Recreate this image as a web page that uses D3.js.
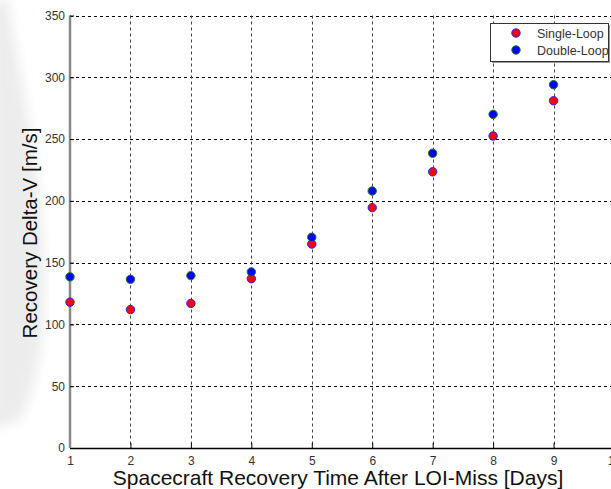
<!DOCTYPE html>
<html>
<head>
<meta charset="utf-8">
<script src="https://cdn.jsdelivr.net/npm/d3@7"></script>
<style>
  html, body { margin: 0; padding: 0; background: #fff; }
  svg { display: block; font-family: "Liberation Sans", Arial, sans-serif; }
</style>
</head>
<body>
<svg id="chart" width="611" height="489"></svg>
<script>
// Recovery time after LOI miss (days)
const days = [1, 2, 3, 4, 5, 6, 7, 8, 9];
// Recovery delta-V (m/s) for each strategy
const singleLoop = [118, 112, 117, 137, 165, 194.5, 223.5, 252.5, 281];
const doubleLoop = [138.5, 136.5, 139.5, 142.5, 170.5, 208, 238.5, 270, 294];
const xTicks = [1, 2, 3, 4, 5, 6, 7, 8, 9, 10];
const yTicks = [0, 50, 100, 150, 200, 250, 300, 350];
const seriesNames = ["Single-Loop", "Double-Loop"];

const svg = d3.select("#chart");
const plotLeft = 70, plotTop = 15.5, plotBottom = 448, plotRight = 614;

const x = d3.scaleLinear().domain([1, 10]).range([plotLeft, plotRight]);
const y = d3.scaleLinear().domain([0, 350]).range([plotBottom, plotTop]);

// soft grey shading along the left margin
const defs = svg.append("defs");
defs.append("filter").attr("id", "soft")
  .append("feGaussianBlur").attr("stdDeviation", 6);
svg.append("path")
  .attr("d", "M-10,0 L8,0 C20,80 40,160 44,260 C46,330 40,380 20,420 L-10,430 Z")
  .attr("fill", "#ececec")
  .attr("filter", "url(#soft)");

// grid
svg.append("g").selectAll("line").data(yTicks.filter(d => d > 0)).join("line")
  .attr("x1", plotLeft).attr("x2", 611)
  .attr("y1", d => Math.round(y(d)) + 0.5).attr("y2", d => Math.round(y(d)) + 0.5)
  .attr("stroke", "#000").attr("stroke-width", 1).attr("stroke-dasharray", "3,3");
svg.append("g").selectAll("line").data(xTicks.filter(d => d > 1)).join("line")
  .attr("x1", d => Math.round(x(d)) + 0.5).attr("x2", d => Math.round(x(d)) + 0.5)
  .attr("y1", plotTop).attr("y2", plotBottom)
  .attr("stroke", "#444").attr("stroke-width", 1).attr("stroke-dasharray", "3,3");

// x axis
const xAxis = svg.append("g")
  .attr("transform", `translate(0,${plotBottom})`)
  .call(d3.axisBottom(x).tickValues(xTicks).tickSize(-5).tickPadding(8).tickFormat(d3.format("d")));
xAxis.select(".domain").attr("stroke", "#000").attr("stroke-width", 1.5).attr("d", `M${plotLeft},0.5H611`);
xAxis.selectAll(".tick line").attr("stroke", "#000");
xAxis.selectAll("text").attr("font-size", 12).attr("fill", "#333")
  .attr("font-family", "'Liberation Sans', Arial, sans-serif");

// y axis
const yAxis = svg.append("g")
  .attr("transform", `translate(${plotLeft},0)`)
  .call(d3.axisLeft(y).tickValues(yTicks).tickSize(4).tickPadding(1));
yAxis.select(".domain").attr("stroke", "#888").attr("stroke-width", 2.5)
  .attr("d", `M0,${plotTop}V${plotBottom}`);
yAxis.selectAll(".tick line").attr("stroke", "#000").attr("x1", 0).attr("x2", 4);
yAxis.selectAll("text").attr("font-size", 12).attr("fill", "#333")
  .attr("font-family", "'Liberation Sans', Arial, sans-serif");

// axis titles
svg.append("text")
  .attr("x", 338).attr("y", 485)
  .attr("text-anchor", "middle").attr("font-size", 21).attr("fill", "#111")
  .text("Spacecraft Recovery Time After LOI-Miss [Days]");
svg.append("text")
  .attr("transform", `translate(37,233) rotate(-90)`)
  .attr("text-anchor", "middle").attr("font-size", 20.5).attr("fill", "#111")
  .text("Recovery Delta-V [m/s]");

// markers
const styles = [
  { fill: "#ff0000", stroke: "#2020ff" },
  { fill: "#0000ff", stroke: "#1a7a1a" }
];
[singleLoop, doubleLoop].forEach((vals, i) => {
  svg.append("g").selectAll("circle").data(vals).join("circle")
    .attr("cx", (d, j) => x(days[j]))
    .attr("cy", d => y(d))
    .attr("r", 4.2)
    .attr("fill", styles[i].fill)
    .attr("stroke", styles[i].stroke)
    .attr("stroke-width", 1);
});

// legend
const lg = svg.append("g").attr("transform", "translate(490,23)");
lg.append("rect").attr("x", 2).attr("y", 2).attr("width", 118).attr("height", 38).attr("fill", "#999");
lg.append("rect").attr("x", 0.5).attr("y", 0.5).attr("width", 118).attr("height", 38)
  .attr("fill", "#fff").attr("stroke", "#333").attr("stroke-width", 1);
seriesNames.forEach((name, i) => {
  const row = lg.append("g").attr("transform", `translate(0,${10 + i * 17})`);
  row.append("circle").attr("cx", 26).attr("cy", 0).attr("r", 4.2)
    .attr("fill", styles[i].fill).attr("stroke", styles[i].stroke);
  row.append("text").attr("x", 47).attr("y", 4.5).attr("font-size", 12.5).attr("fill", "#333")
    .text(name);
});
</script>
</body>
</html>
